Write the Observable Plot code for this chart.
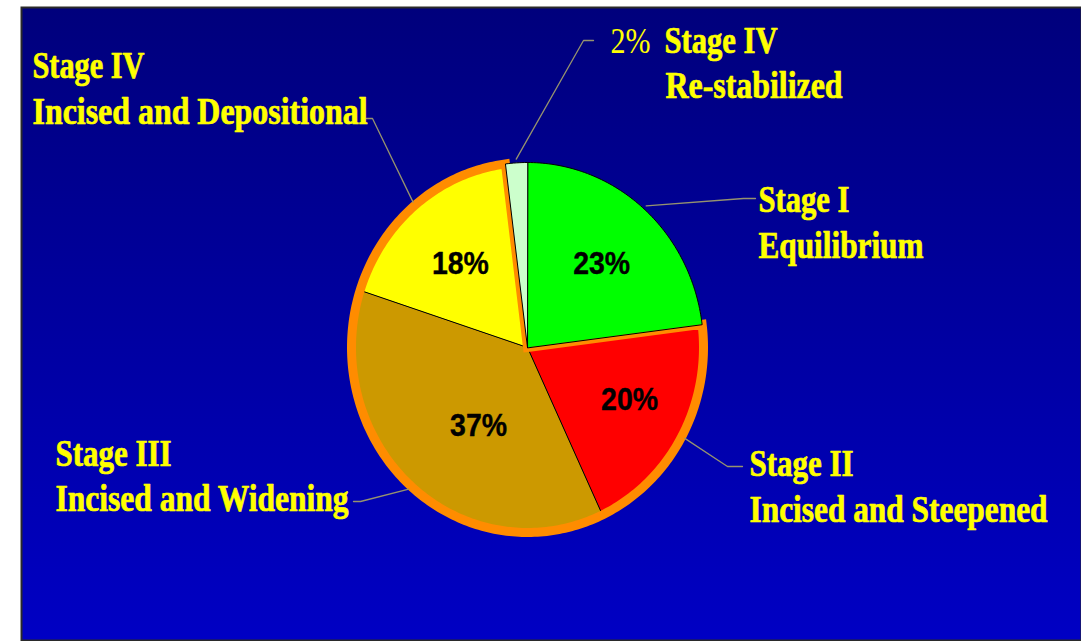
<!DOCTYPE html>
<html><head><meta charset="utf-8">
<script src="https://cdn.jsdelivr.net/npm/d3@7"></script>
<script src="https://cdn.jsdelivr.net/npm/@observablehq/plot@0.6"></script>
<style>html,body{margin:0;padding:0;background:#fff;overflow:hidden}</style>
</head><body><div id="chart"></div>
<script>
// ---------- data ----------
const stages = ["Stage I", "Stage II", "Stage III", "Stage IV incised", "Stage IV re-stabilized"];
const values = [23, 20, 37, 18, 2];
const sliceColors = ["#00ff00", "#ff0000", "#cc9900", "#ffff00", "#ccffcc"];
const labelLine1 = ["Stage I", "Stage II", "Stage III", "Stage IV", "Stage IV"];
const labelLine2 = ["Equilibrium", "Incised and Steepened", "Incised and Widening", "Incised and Depositional", "Re-stabilized"];
const insideLabel = [true, true, true, true, false];
const highlighted = ["Stage II", "Stage III", "Stage IV incised"];

// ---------- layout (positions / sizes / styles) ----------
const W = 1081, H = 641;
const pie = {cx: 527, cy: 347, rx: 176, ry: 185};
const labelLayout = [
  {l1: [758, 211, 91], l2: [758, 257, 165], elbow: [743, 198], end: [755, 198]},
  {l1: [749, 475, 104], l2: [749, 521, 298], elbow: [727, 466], end: [742, 466]},
  {l1: [55, 465, 116], l2: [55, 510, 293], elbow: [360, 501], end: [353, 501]},
  {l1: [32, 77, 112], l2: [32, 123, 335], elbow: [372, 118], end: [366, 118]},
  {l1: [664, 52, 113], l2: [665, 97, 177], elbow: [583, 40], end: [593, 40], pct: [610, 52, 40]}
];
const pctPolar = [[42.8, 0.62], [115.8, 0.644], [213.4, 0.505], [320, 0.593]];
const pctWidth = 57;

// ---------- geometry from data ----------
const total = d3.sum(values);
const starts = [];
let acc = 0;
values.forEach(v => { starts.push(acc / total * 360); acc += v; });
const ends = values.map((v, i) => starts[i] + v / total * 360);
const pt = (deg, r = 1) => {
  const a = deg * Math.PI / 180;
  return [pie.cx + pie.rx * r * Math.sin(a), pie.cy - pie.ry * r * Math.cos(a)];
};
function wedge(a0, a1, r = 1) {
  const pts = [[pie.cx, pie.cy]];
  const n = Math.max(2, Math.ceil((a1 - a0) / 1));
  for (let k = 0; k <= n; k++) pts.push(pt(a0 + (a1 - a0) * k / n, r));
  return pts;
}
const sliceRows = stages.flatMap((s, i) => wedge(starts[i], ends[i]).map(([x, y]) => ({stage: s, x, y})));
const hiIdx = highlighted.map(s => stages.indexOf(s));
const outlineRows = wedge(starts[d3.min(hiIdx)], ends[d3.max(hiIdx)]).map(([x, y]) => ({x, y}));

const leaderRows = stages.flatMap((s, i) => {
  const mid = (starts[i] + ends[i]) / 2;
  const p0 = pt(mid, 1.02);
  const L = labelLayout[i];
  return [p0, L.elbow, L.end].map(([x, y]) => ({stage: s, x, y}));
});

const labelRows = stages.flatMap((s, i) => {
  const L = labelLayout[i];
  return [
    {x: L.l1[0], y: L.l1[1], w: L.l1[2], text: labelLine1[i]},
    {x: L.l2[0], y: L.l2[1], w: L.l2[2], text: labelLine2[i]}
  ];
});
const pctOut = stages.map((s, i) => i).filter(i => !insideLabel[i]).map(i => {
  const L = labelLayout[i];
  return {x: L.pct[0], y: L.pct[1], w: L.pct[2], text: values[i] + "%"};
});
const pctRows = stages.map((s, i) => i).filter(i => insideLabel[i]).map((i, k) => {
  const [x, y] = pt(pctPolar[k][0], pctPolar[k][1]);
  return {x, y, w: pctWidth, text: values[i] + "%"};
});

// ---------- chart ----------
const chart = Plot.plot({
  width: W, height: H,
  marginLeft: 21, marginTop: 7, marginRight: 0, marginBottom: 1,
  style: {background: "white"},
  x: {type: "linear", domain: [0, W], range: [0, W], axis: null},
  y: {type: "linear", domain: [0, H], range: [0, H], axis: null},
  color: {type: "ordinal", domain: stages, range: sliceColors},
  marks: [
    Plot.frame({fill: "url(#bgGrad)", stroke: "#2a2a2a", strokeWidth: 2}),
    Plot.line(sliceRows.filter(d => highlighted.includes(d.stage)), {x: "x", y: "y", z: "stage", fill: "stage", stroke: "black", strokeWidth: 1, curve: "linear-closed"}),
    Plot.line(outlineRows, {x: "x", y: "y", stroke: "#ff8c00", strokeWidth: 9, strokeLinejoin: "miter", strokeMiterlimit: 10, curve: "linear-closed", fill: "none"}),
    Plot.line(sliceRows.filter(d => !highlighted.includes(d.stage)), {x: "x", y: "y", z: "stage", fill: "stage", stroke: "black", strokeWidth: 1, curve: "linear-closed"}),
    Plot.line(leaderRows, {x: "x", y: "y", z: "stage", stroke: "#96936e", strokeWidth: 1.3}),
    Plot.text(pctRows, {x: "x", y: "y", text: "text", textAnchor: "middle", lineAnchor: "middle", fontFamily: "Liberation Sans", fontWeight: "bold", fontSize: 32, fill: "black", stroke: "black", strokeWidth: 0.4}),
    Plot.text(pctOut, {x: "x", y: "y", text: "text", textAnchor: "start", lineAnchor: "bottom", fontFamily: "Liberation Serif", fontSize: 35, fill: "#ffff00"}),
    Plot.text(labelRows, {x: "x", y: "y", text: "text", textAnchor: "start", lineAnchor: "bottom", fontFamily: "Liberation Serif", fontWeight: "bold", fontSize: 37, fill: "#ffff00", stroke: "#ffff00", strokeWidth: 0.7})
  ]
});

// gradient background definition
const ns = "http://www.w3.org/2000/svg";
const defs = document.createElementNS(ns, "defs");
const grad = document.createElementNS(ns, "linearGradient");
grad.setAttribute("id", "bgGrad");
grad.setAttribute("x1", "0"); grad.setAttribute("y1", "0");
grad.setAttribute("x2", "0"); grad.setAttribute("y2", "1");
[["0", "#00007c"], ["1", "#0000c4"]].forEach(([o, c]) => {
  const s = document.createElementNS(ns, "stop");
  s.setAttribute("offset", o); s.setAttribute("stop-color", c);
  grad.appendChild(s);
});
defs.appendChild(grad);
chart.insertBefore(defs, chart.firstChild);

// horizontally condensed label text: match each text element to its row by content
const allRows = [...pctRows, ...pctOut, ...labelRows];
const used = new Set();
chart.querySelectorAll("text").forEach(el => {
  const t = el.textContent;
  const idx = allRows.findIndex((r, i) => !used.has(i) && r.text === t);
  if (idx >= 0) {
    used.add(idx);
    el.setAttribute("textLength", allRows[idx].w);
    el.setAttribute("lengthAdjust", "spacingAndGlyphs");
  }
});

document.getElementById("chart").appendChild(chart);
</script>
</body></html>
